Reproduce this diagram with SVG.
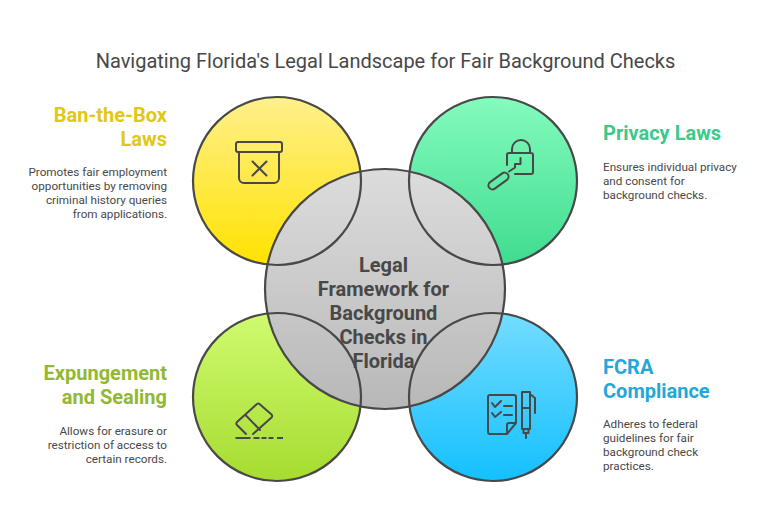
<svg xmlns="http://www.w3.org/2000/svg" width="770" height="530" viewBox="0 0 770 530">
<style>
text{font-family:Roboto,"Liberation Sans",sans-serif}
.t{font-size:20px;fill:#484848}
.c{font-size:20px;font-weight:700;fill:#484848;text-anchor:middle}
.h{font-size:20px;font-weight:700}
.d{font-size:11.7px;fill:#484848}
.e{text-anchor:end}
.o{fill:none;stroke:#484848;stroke-width:2.2}
.i{fill:none;stroke:#484848;stroke-width:2;stroke-linecap:round;stroke-linejoin:round}
</style>
<defs>
<linearGradient id="gy" x1="0" y1="0" x2="0" y2="1"><stop offset="0" stop-color="#fff08c"/><stop offset="1" stop-color="#ffe200"/></linearGradient>
<linearGradient id="gg" x1="0" y1="0" x2="0" y2="1"><stop offset="0" stop-color="#84fbbd"/><stop offset="1" stop-color="#3fdc8f"/></linearGradient>
<linearGradient id="gl" x1="0" y1="0" x2="0" y2="1"><stop offset="0" stop-color="#cffb70"/><stop offset="1" stop-color="#a6dc30"/></linearGradient>
<linearGradient id="gb" x1="0" y1="0" x2="0" y2="1"><stop offset="0" stop-color="#74dcff"/><stop offset="1" stop-color="#14c0ff"/></linearGradient>
<linearGradient id="gc" x1="0" y1="0" x2="0" y2="1"><stop offset="0" stop-color="#dcdcdc"/><stop offset="1" stop-color="#b8b8b8"/></linearGradient>
</defs>
<text class="t" x="385.500" y="68" text-anchor="middle">Navigating Florida's Legal Landscape for Fair Background Checks</text>
<g id="node-ban">
<circle cx="277" cy="181" r="84" fill="url(#gy)"/>
<path class="i" d="M238 142h42a2 2 0 0 1 2 2v6a2 2 0 0 1-2 2h-42a2 2 0 0 1-2-2v-6a2 2 0 0 1 2-2zM239 152v26a5 5 0 0 0 5 5h30a5 5 0 0 0 5-5v-26M252.500 161.500l14 14M266.500 161.500l-14 14"/>
</g>
<g id="node-privacy">
<circle cx="493" cy="181" r="84" fill="url(#gg)"/>
<path class="i" d="M512 153v-4a9 9 0 0 1 18 0v4M507 165v-10a2 2 0 0 1 2-2h22a2 2 0 0 1 2 2v17a2 2 0 0 1-2 2h-16M520.500 158v6h-5.500v3.500l-6 4"/>
<rect class="i" x="487" y="177" width="23" height="8" rx="4" transform="rotate(-36 498.500 181)"/>
</g>
<g id="node-expungement">
<circle cx="277" cy="397" r="84" fill="url(#gl)"/>
<path class="i" d="M246 434l-9-9a2 2 0 0 1 0-3l20-18a2 2 0 0 1 2.500 0l12 10.500a2 2 0 0 1 0 3l-18.500 16.500M245.500 415l14.500 15"/>
<path d="M235.500 438h15M253.500 438h6M261.500 438h5M268.500 438h5M277 438h6" fill="none" stroke="#484848" stroke-width="2"/>
</g>
<g id="node-fcra">
<circle cx="493" cy="397" r="84" fill="url(#gb)"/>
<path class="i" d="M507 434h-17a2 2 0 0 1-2-2v-35a2 2 0 0 1 2-2h24a2 2 0 0 1 2 2v26l-9 11zM516 423h-7a2 2 0 0 0-2 2v9M492 403l3 4l6-6M492 413l3 4l6-5M504 406h8M504 415h8M522 392h8v37h-8zM522 408h8M530 394l5 4v15M523.500 429v4h5v-4M526 433v5"/>
</g>
<g id="node-center">
<circle cx="385" cy="289" r="120" fill="url(#gc)"/>
<text class="c" x="383.500" y="272">Legal</text>
<text class="c" x="383.500" y="296">Framework for</text>
<text class="c" x="383.500" y="320">Background</text>
<text class="c" x="383.500" y="344">Checks in</text>
<text class="c" x="383.500" y="368">Florida</text>
</g>
<g id="connectors" class="o">
<circle cx="277" cy="181" r="84"/>
<circle cx="493" cy="181" r="84"/>
<circle cx="277" cy="397" r="84"/>
<circle cx="493" cy="397" r="84"/>
<circle cx="385" cy="289" r="120"/>
</g>
<g id="label-ban">
<text class="h e" x="167" y="122" fill="#e0c814">Ban-the-Box</text>
<text class="h e" x="167" y="146" fill="#e0c814">Laws</text>
<text class="d e" x="167" y="176">Promotes fair employment</text>
<text class="d e" x="167" y="190">opportunities by removing</text>
<text class="d e" x="167" y="204">criminal history queries</text>
<text class="d e" x="167" y="218">from applications.</text>
</g>
<g id="label-privacy">
<text class="h" x="603" y="140" fill="#3cc98a">Privacy Laws</text>
<text class="d" x="603" y="171">Ensures individual privacy</text>
<text class="d" x="603" y="185">and consent for</text>
<text class="d" x="603" y="199">background checks.</text>
</g>
<g id="label-expungement">
<text class="h e" x="167" y="380" fill="#93b833">Expungement</text>
<text class="h e" x="167" y="404" fill="#93b833">and Sealing</text>
<text class="d e" x="167" y="435">Allows for erasure or</text>
<text class="d e" x="167" y="449">restriction of access to</text>
<text class="d e" x="167" y="463">certain records.</text>
</g>
<g id="label-fcra">
<text class="h" x="603" y="374" fill="#1fa8d9">FCRA</text>
<text class="h" x="603" y="398" fill="#1fa8d9">Compliance</text>
<text class="d" x="603" y="428">Adheres to federal</text>
<text class="d" x="603" y="442">guidelines for fair</text>
<text class="d" x="603" y="456">background check</text>
<text class="d" x="603" y="470">practices.</text>
</g>
</svg>
